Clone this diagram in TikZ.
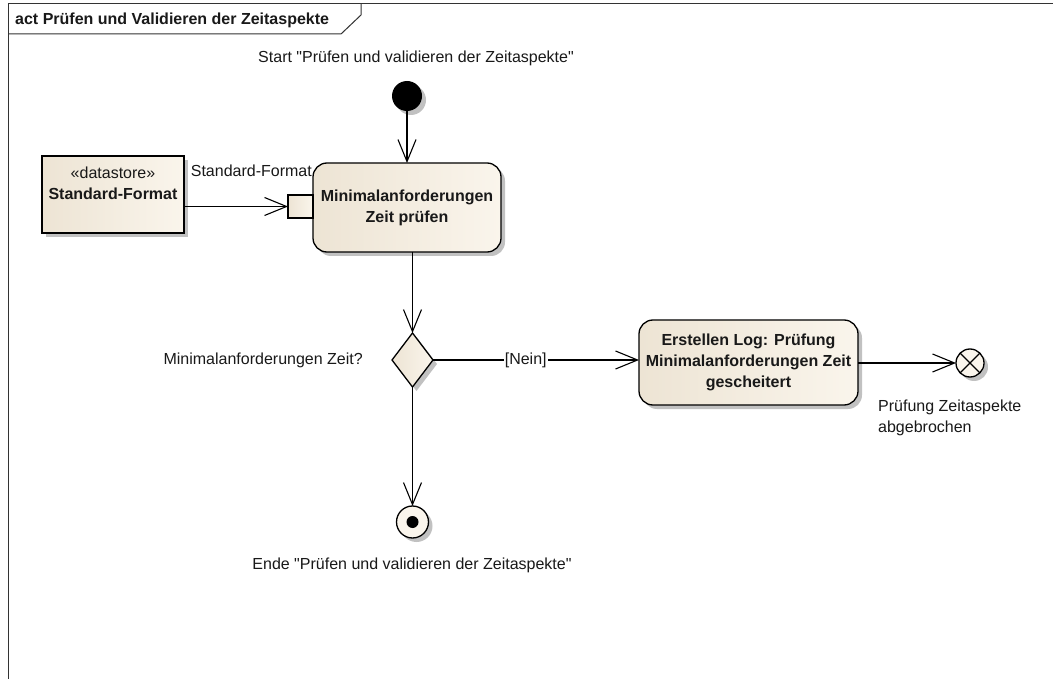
\documentclass[tikz,border=0pt]{standalone}
\usepackage{fontspec}
\setmainfont{Liberation Sans}[Ligatures=TeXOff]
\usetikzlibrary{arrows.meta,shapes.geometric,shadows}

\definecolor{fillA}{RGB}{237,228,212}
\definecolor{fillB}{RGB}{250,245,236}
\definecolor{inkc}{RGB}{25,25,25}

\tikzset{
  txt/.style={font=\fontsize{16}{21}\selectfont, text=inkc, inner sep=0pt},
  boldtxt/.style={font=\fontsize{16}{21}\selectfont\bfseries, text=inkc, inner sep=0pt},
  shade/.style={drop shadow={shadow xshift=4pt, shadow yshift=-4pt, fill=black!30, opacity=0.8}},
  warm/.style={left color=fillA, right color=fillB, shading angle=90},
  actionbox/.style={boldtxt, draw=black, line width=1.3pt, rounded corners=14pt, warm, shade,
                    align=center, outer sep=0pt},
  storebox/.style={draw=black, line width=1.3pt, warm, shade, outer sep=0pt, inner sep=0pt},
  pinbox/.style={draw=black, line width=1.3pt, warm, outer sep=0pt, inner sep=0pt,
                 minimum width=25pt, minimum height=23pt},
  decision/.style={diamond, draw=black, line width=1.3pt, warm, shade, inner sep=0pt, outer sep=0pt,
                   minimum width=41pt, minimum height=54pt},
  initial/.style={circle, fill=black, inner sep=0pt, minimum size=30pt, shade, outer sep=0pt},
  finalring/.style={circle, draw=black, line width=1.3pt, fill=fillB, inner sep=0pt, minimum size=32pt, shade, outer sep=0pt},
  finaldot/.style={circle, fill=black, inner sep=0pt, minimum size=12pt},
  flowfinal/.style={circle, draw=black, line width=1.3pt, fill=fillB, inner sep=0pt, minimum size=28pt, shade, outer sep=0pt},
  flow/.style={draw=black, line width=1.1pt, -{Straight Barb[length=22pt, width=18pt, line width=1.1pt]}}
}

\begin{document}
\begin{tikzpicture}[x=1pt, y=-1pt]
  \useasboundingbox (0,0) rectangle (1053,679);
  \fill[white] (0,0) rectangle (1053,679);

  % diagram frame and title tab
  \draw[line width=1pt, black!80] (8,679) -- (8,4) -- (1053,4);
  \draw[line width=1pt, black!80] (8,34) -- (341,34) -- (361,15) -- (361,4);
  \node[boldtxt, anchor=west] (title) at (15,20) {act Prüfen und Validieren der Zeitaspekte};

  % nodes
  \node[initial] (start) at (407,96) {};
  \node[txt] (startlbl) at (416,58) {Start "Prüfen und validieren der Zeitaspekte"};

  \node[actionbox, minimum width=188pt, minimum height=89pt] (act1) at (407,207.5)
       {Minimalanforderungen\\Zeit prüfen};
  \node[pinbox] (pin) at (300.5,206.5) {};
  \node[txt, anchor=base east] (pinlbl) at (312,177) {Standard-Format};

  \node[storebox, minimum width=142pt, minimum height=77pt] (ds) at (113,194.5) {};
  \node[txt, align=center] (dslbl) at (113,183.5)
       {«datastore»\\\textbf{Standard-Format}};

  \node[decision] (dec) at (412.5,360) {};
  \node[txt, anchor=east] (declbl) at (363,360) {Minimalanforderungen Zeit?};

  \node[actionbox, minimum width=219pt, minimum height=85pt] (act2) at (748.5,362.5)
       {Erstellen Log: Prüfung\\Minimalanforderungen Zeit\\gescheitert};

  \node[flowfinal] (ff) at (970,363) {};
  \draw[line width=1.1pt] (ff.north east) -- (ff.south west) (ff.north west) -- (ff.south east);
  \node[txt, anchor=north west, align=left] (fflbl) at (878,400) {Prüfung Zeitaspekte\\abgebrochen};

  \node[finalring] (fin) at (412.5,522) {};
  \node[finaldot] (findot) at (fin) {};
  \node[txt] (finlbl) at (412,565) {Ende "Prüfen und validieren der Zeitaspekte"};

  % control and object flows
  \draw[flow] (start) -- (start |- act1.north);
  \draw[flow] (ds.east |- pin) -- (pin.west);
  \draw[flow] (act1.south -| dec) -- (dec.north);
  \draw[flow] (dec.east) -- (dec.east -| act2.west)
        node[txt, pos=0.45, fill=white, inner sep=1pt] (nein) {[Nein]};
  \draw[flow] (act2.east |- ff) -- (ff.west);
  \draw[flow] (dec.south) -- (fin.north);
\end{tikzpicture}
\end{document}
